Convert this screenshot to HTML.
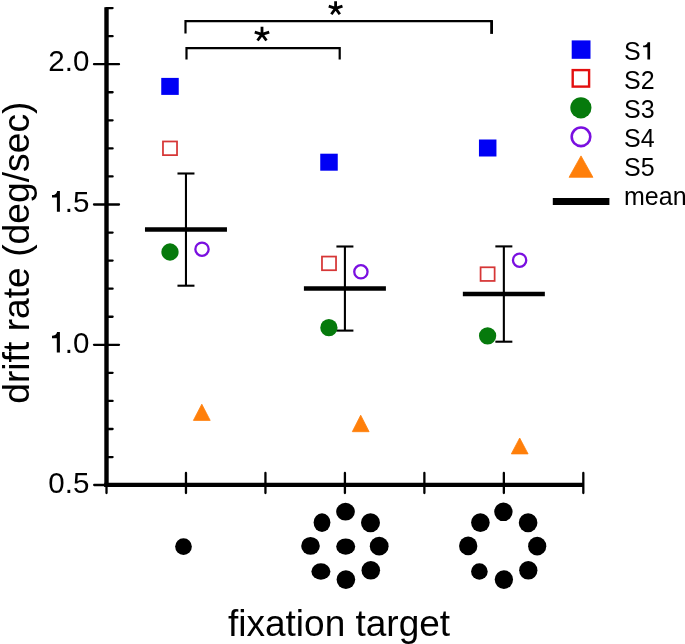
<!DOCTYPE html>
<html><head><meta charset="utf-8"><style>
html,body{margin:0;padding:0;background:#fff;}
body{width:685px;height:644px;overflow:hidden;}
svg{display:block;will-change:transform;font-family:"Liberation Sans",sans-serif;}
</style></head><body>
<svg width="685" height="644" viewBox="0 0 685 644">
<rect width="685" height="644" fill="#fff"/>
<line x1="106.5" y1="7.2" x2="106.5" y2="487" stroke="#000" stroke-width="4.4"/>
<line x1="104.3" y1="484.9" x2="583.3" y2="484.9" stroke="#000" stroke-width="4.2"/>
<line x1="106.5" y1="457.04" x2="112.6" y2="457.04" stroke="#000" stroke-width="2.3" stroke-linecap="round"/>
<line x1="106.5" y1="428.98" x2="112.6" y2="428.98" stroke="#000" stroke-width="2.3" stroke-linecap="round"/>
<line x1="106.5" y1="400.92" x2="112.6" y2="400.92" stroke="#000" stroke-width="2.3" stroke-linecap="round"/>
<line x1="106.5" y1="372.86" x2="112.6" y2="372.86" stroke="#000" stroke-width="2.3" stroke-linecap="round"/>
<line x1="94" y1="344.80" x2="119" y2="344.80" stroke="#000" stroke-width="2.3" stroke-linecap="round"/>
<line x1="106.5" y1="316.74" x2="112.6" y2="316.74" stroke="#000" stroke-width="2.3" stroke-linecap="round"/>
<line x1="106.5" y1="288.68" x2="112.6" y2="288.68" stroke="#000" stroke-width="2.3" stroke-linecap="round"/>
<line x1="106.5" y1="260.62" x2="112.6" y2="260.62" stroke="#000" stroke-width="2.3" stroke-linecap="round"/>
<line x1="106.5" y1="232.56" x2="112.6" y2="232.56" stroke="#000" stroke-width="2.3" stroke-linecap="round"/>
<line x1="94" y1="204.50" x2="119" y2="204.50" stroke="#000" stroke-width="2.3" stroke-linecap="round"/>
<line x1="106.5" y1="176.44" x2="112.6" y2="176.44" stroke="#000" stroke-width="2.3" stroke-linecap="round"/>
<line x1="106.5" y1="148.38" x2="112.6" y2="148.38" stroke="#000" stroke-width="2.3" stroke-linecap="round"/>
<line x1="106.5" y1="120.32" x2="112.6" y2="120.32" stroke="#000" stroke-width="2.3" stroke-linecap="round"/>
<line x1="106.5" y1="92.26" x2="112.6" y2="92.26" stroke="#000" stroke-width="2.3" stroke-linecap="round"/>
<line x1="94" y1="64.20" x2="119" y2="64.20" stroke="#000" stroke-width="2.3" stroke-linecap="round"/>
<line x1="106.5" y1="36.14" x2="112.6" y2="36.14" stroke="#000" stroke-width="2.3" stroke-linecap="round"/>
<line x1="106.5" y1="8.08" x2="112.6" y2="8.08" stroke="#000" stroke-width="2.3" stroke-linecap="round"/>
<line x1="94.2" y1="485" x2="106.5" y2="485" stroke="#000" stroke-width="2.3" stroke-linecap="round"/>
<line x1="106.50" y1="473.0" x2="106.50" y2="493.1" stroke="#000" stroke-width="2.3" stroke-linecap="round"/>
<line x1="185.97" y1="473.0" x2="185.97" y2="493.1" stroke="#000" stroke-width="2.3" stroke-linecap="round"/>
<line x1="265.44" y1="473.0" x2="265.44" y2="493.1" stroke="#000" stroke-width="2.3" stroke-linecap="round"/>
<line x1="344.91" y1="473.0" x2="344.91" y2="493.1" stroke="#000" stroke-width="2.3" stroke-linecap="round"/>
<line x1="424.38" y1="473.0" x2="424.38" y2="493.1" stroke="#000" stroke-width="2.3" stroke-linecap="round"/>
<line x1="503.85" y1="473.0" x2="503.85" y2="493.1" stroke="#000" stroke-width="2.3" stroke-linecap="round"/>
<line x1="583.32" y1="473.0" x2="583.32" y2="493.1" stroke="#000" stroke-width="2.3" stroke-linecap="round"/>
<text x="89.3" y="71" text-anchor="end" font-size="29.5">2.0</text>
<text x="89.3" y="493" text-anchor="end" font-size="29.5">0.5</text>
<text x="89.3" y="212" text-anchor="end" font-size="29.5">.5</text>
<text x="89.3" y="353" text-anchor="end" font-size="29.5">.0</text>
<path d="M59.9,191 L59.9,211.7 L56.9,211.7 L56.9,197.4 L52,197.4 L52,195.1 C54.2,195.1 56.699999999999996,194.29999999999998 57.199999999999996,191 Z" fill="#000"/>
<path d="M59.9,332.1 L59.9,352.6 L56.8,352.6 L56.8,338.2 L52,338.2 L52,335.8 C54.2,335.8 56.599999999999994,335.0 57.099999999999994,332.1 Z" fill="#000"/>
<line x1="185.97" y1="173.5" x2="185.97" y2="285.7" stroke="#000" stroke-width="2.1"/>
<line x1="177.47" y1="173.5" x2="194.47" y2="173.5" stroke="#000" stroke-width="2.1"/>
<line x1="177.47" y1="285.7" x2="194.47" y2="285.7" stroke="#000" stroke-width="2.1"/>
<line x1="144.97" y1="229.6" x2="226.97" y2="229.6" stroke="#000" stroke-width="4.5"/>
<line x1="344.91" y1="246.5" x2="344.91" y2="330.6" stroke="#000" stroke-width="2.1"/>
<line x1="336.41" y1="246.5" x2="353.41" y2="246.5" stroke="#000" stroke-width="2.1"/>
<line x1="336.41" y1="330.6" x2="353.41" y2="330.6" stroke="#000" stroke-width="2.1"/>
<line x1="303.91" y1="288.4" x2="385.91" y2="288.4" stroke="#000" stroke-width="4.5"/>
<line x1="503.85" y1="246.4" x2="503.85" y2="341.7" stroke="#000" stroke-width="2.1"/>
<line x1="495.35" y1="246.4" x2="512.35" y2="246.4" stroke="#000" stroke-width="2.1"/>
<line x1="495.35" y1="341.7" x2="512.35" y2="341.7" stroke="#000" stroke-width="2.1"/>
<line x1="462.85" y1="293.9" x2="544.85" y2="293.9" stroke="#000" stroke-width="4.5"/>
<rect x="161.25" y="77.90" width="17.5" height="17" fill="#0000f5"/>
<rect x="162.97" y="141.48" width="14.05" height="13.65" fill="none" stroke="#d63636" stroke-width="1.75"/>
<circle cx="170.00" cy="252.00" r="8.65" fill="#067a0c"/>
<circle cx="202.00" cy="249.20" r="6.65" fill="none" stroke="#7a0fe0" stroke-width="2.3"/>
<polygon points="201.80,404.2 210.20,420.4 193.40,420.4" fill="#ff7f0a" stroke="#ff7f0a" stroke-width="0.8" stroke-linejoin="round"/>
<rect x="320.25" y="153.70" width="17.5" height="17" fill="#0000f5"/>
<rect x="321.98" y="256.57" width="14.05" height="13.65" fill="none" stroke="#d63636" stroke-width="1.75"/>
<circle cx="360.90" cy="271.80" r="6.65" fill="none" stroke="#7a0fe0" stroke-width="2.3"/>
<circle cx="328.90" cy="327.70" r="8.65" fill="#067a0c"/>
<polygon points="360.70,415.2 369.10,431.7 352.30,431.7" fill="#ff7f0a" stroke="#ff7f0a" stroke-width="0.8" stroke-linejoin="round"/>
<rect x="478.95" y="139.50" width="17.5" height="17" fill="#0000f5"/>
<rect x="480.58" y="267.28" width="14.05" height="13.65" fill="none" stroke="#d63636" stroke-width="1.75"/>
<circle cx="519.60" cy="260.20" r="6.65" fill="none" stroke="#7a0fe0" stroke-width="2.3"/>
<circle cx="487.60" cy="335.80" r="8.65" fill="#067a0c"/>
<polygon points="519.70,438 528.10,453.9 511.30,453.9" fill="#ff7f0a" stroke="#ff7f0a" stroke-width="0.8" stroke-linejoin="round"/>
<polyline points="185.5,33.5 185.5,21.2 491.7,21.2" fill="none" stroke="#000" stroke-width="2.2"/>
<line x1="491.6" y1="20.1" x2="491.6" y2="33.9" stroke="#000" stroke-width="2.8"/>
<polyline points="186.5,59.6 186.5,48.2 339.7,48.2 339.7,59.6" fill="none" stroke="#000" stroke-width="2.2"/>
<path d="M262.00,34.40L262.00,26.80M262.00,34.40L254.77,32.05M262.00,34.40L257.53,40.55M262.00,34.40L266.47,40.55M262.00,34.40L269.23,32.05" stroke="#000" stroke-width="2.8" fill="none" stroke-linecap="butt"/>
<path d="M335.60,8.40L335.60,1.20M335.60,8.40L328.75,6.18M335.60,8.40L331.37,14.22M335.60,8.40L339.83,14.22M335.60,8.40L342.45,6.18" stroke="#000" stroke-width="2.8" fill="none" stroke-linecap="butt"/>
<rect x="571.70" y="40.40" width="18.8" height="18.4" fill="#0000f5"/>
<rect x="572.70" y="70.10" width="16.40" height="16.50" fill="none" stroke="#e30f0f" stroke-width="2.4"/>
<circle cx="580.90" cy="107.80" r="10.6" fill="#067a0c"/>
<circle cx="581.00" cy="136.80" r="9.30" fill="none" stroke="#7a0fe0" stroke-width="2.6"/>
<polygon points="581.00,155.9 592.95,177.3 569.05,177.3" fill="#ff7f0a" stroke="#ff7f0a" stroke-width="0.8" stroke-linejoin="round"/>
<line x1="552.8" y1="201.5" x2="609.4" y2="201.5" stroke="#000" stroke-width="6.9"/>
<text x="624" y="59.8" font-size="25">S</text>
<path d="M650.1,42.2 L650.1,59.6 L647.4,59.6 L647.4,47.2 L643.1,47.2 L643.1,45.5 C645.3000000000001,45.5 647.1999999999999,44.7 647.6999999999999,42.2 Z" fill="#000"/>
<text x="624" y="88.8" font-size="25">S2</text>
<text x="624" y="117.7" font-size="25">S3</text>
<text x="624" y="146.7" font-size="25">S4</text>
<text x="624" y="175.9" font-size="25">S5</text>
<text x="624" y="204.5" font-size="25">mean</text>
<ellipse cx="183.50" cy="546.60" rx="8.35" ry="8.35" fill="#000"/>
<ellipse cx="345.50" cy="511.70" rx="9.35" ry="8.9" fill="#000"/>
<ellipse cx="322.00" cy="522.60" rx="8.4" ry="9.35" fill="#000"/>
<ellipse cx="370.50" cy="522.80" rx="9.5" ry="9.5" fill="#000"/>
<ellipse cx="310.50" cy="545.90" rx="9.3" ry="8.95" fill="#000"/>
<ellipse cx="345.70" cy="546.60" rx="9.5" ry="8.15" fill="#000"/>
<ellipse cx="379.20" cy="546.20" rx="9.4" ry="9.35" fill="#000"/>
<ellipse cx="320.90" cy="571.50" rx="9.5" ry="8.15" fill="#000"/>
<ellipse cx="345.90" cy="579.60" rx="9.3" ry="9.3" fill="#000"/>
<ellipse cx="370.80" cy="570.30" rx="9.3" ry="9.3" fill="#000"/>
<ellipse cx="503.40" cy="511.80" rx="9.2" ry="9.3" fill="#000"/>
<ellipse cx="480.40" cy="522.60" rx="9.3" ry="9.35" fill="#000"/>
<ellipse cx="528.10" cy="522.80" rx="9.3" ry="9.5" fill="#000"/>
<ellipse cx="468.20" cy="545.90" rx="9.15" ry="9.3" fill="#000"/>
<ellipse cx="537.20" cy="546.20" rx="9.1" ry="9.35" fill="#000"/>
<ellipse cx="479.40" cy="571.50" rx="8.3" ry="8.15" fill="#000"/>
<ellipse cx="503.90" cy="579.60" rx="9.15" ry="9.3" fill="#000"/>
<ellipse cx="528.30" cy="570.30" rx="9.15" ry="9.3" fill="#000"/>
<text x="228" y="635.8" font-size="37">fixation target</text>
<text transform="translate(28.7,403.8) rotate(-90)" x="0" y="0" font-size="37.25">drift rate (deg/sec)</text>
</svg>
</body></html>
